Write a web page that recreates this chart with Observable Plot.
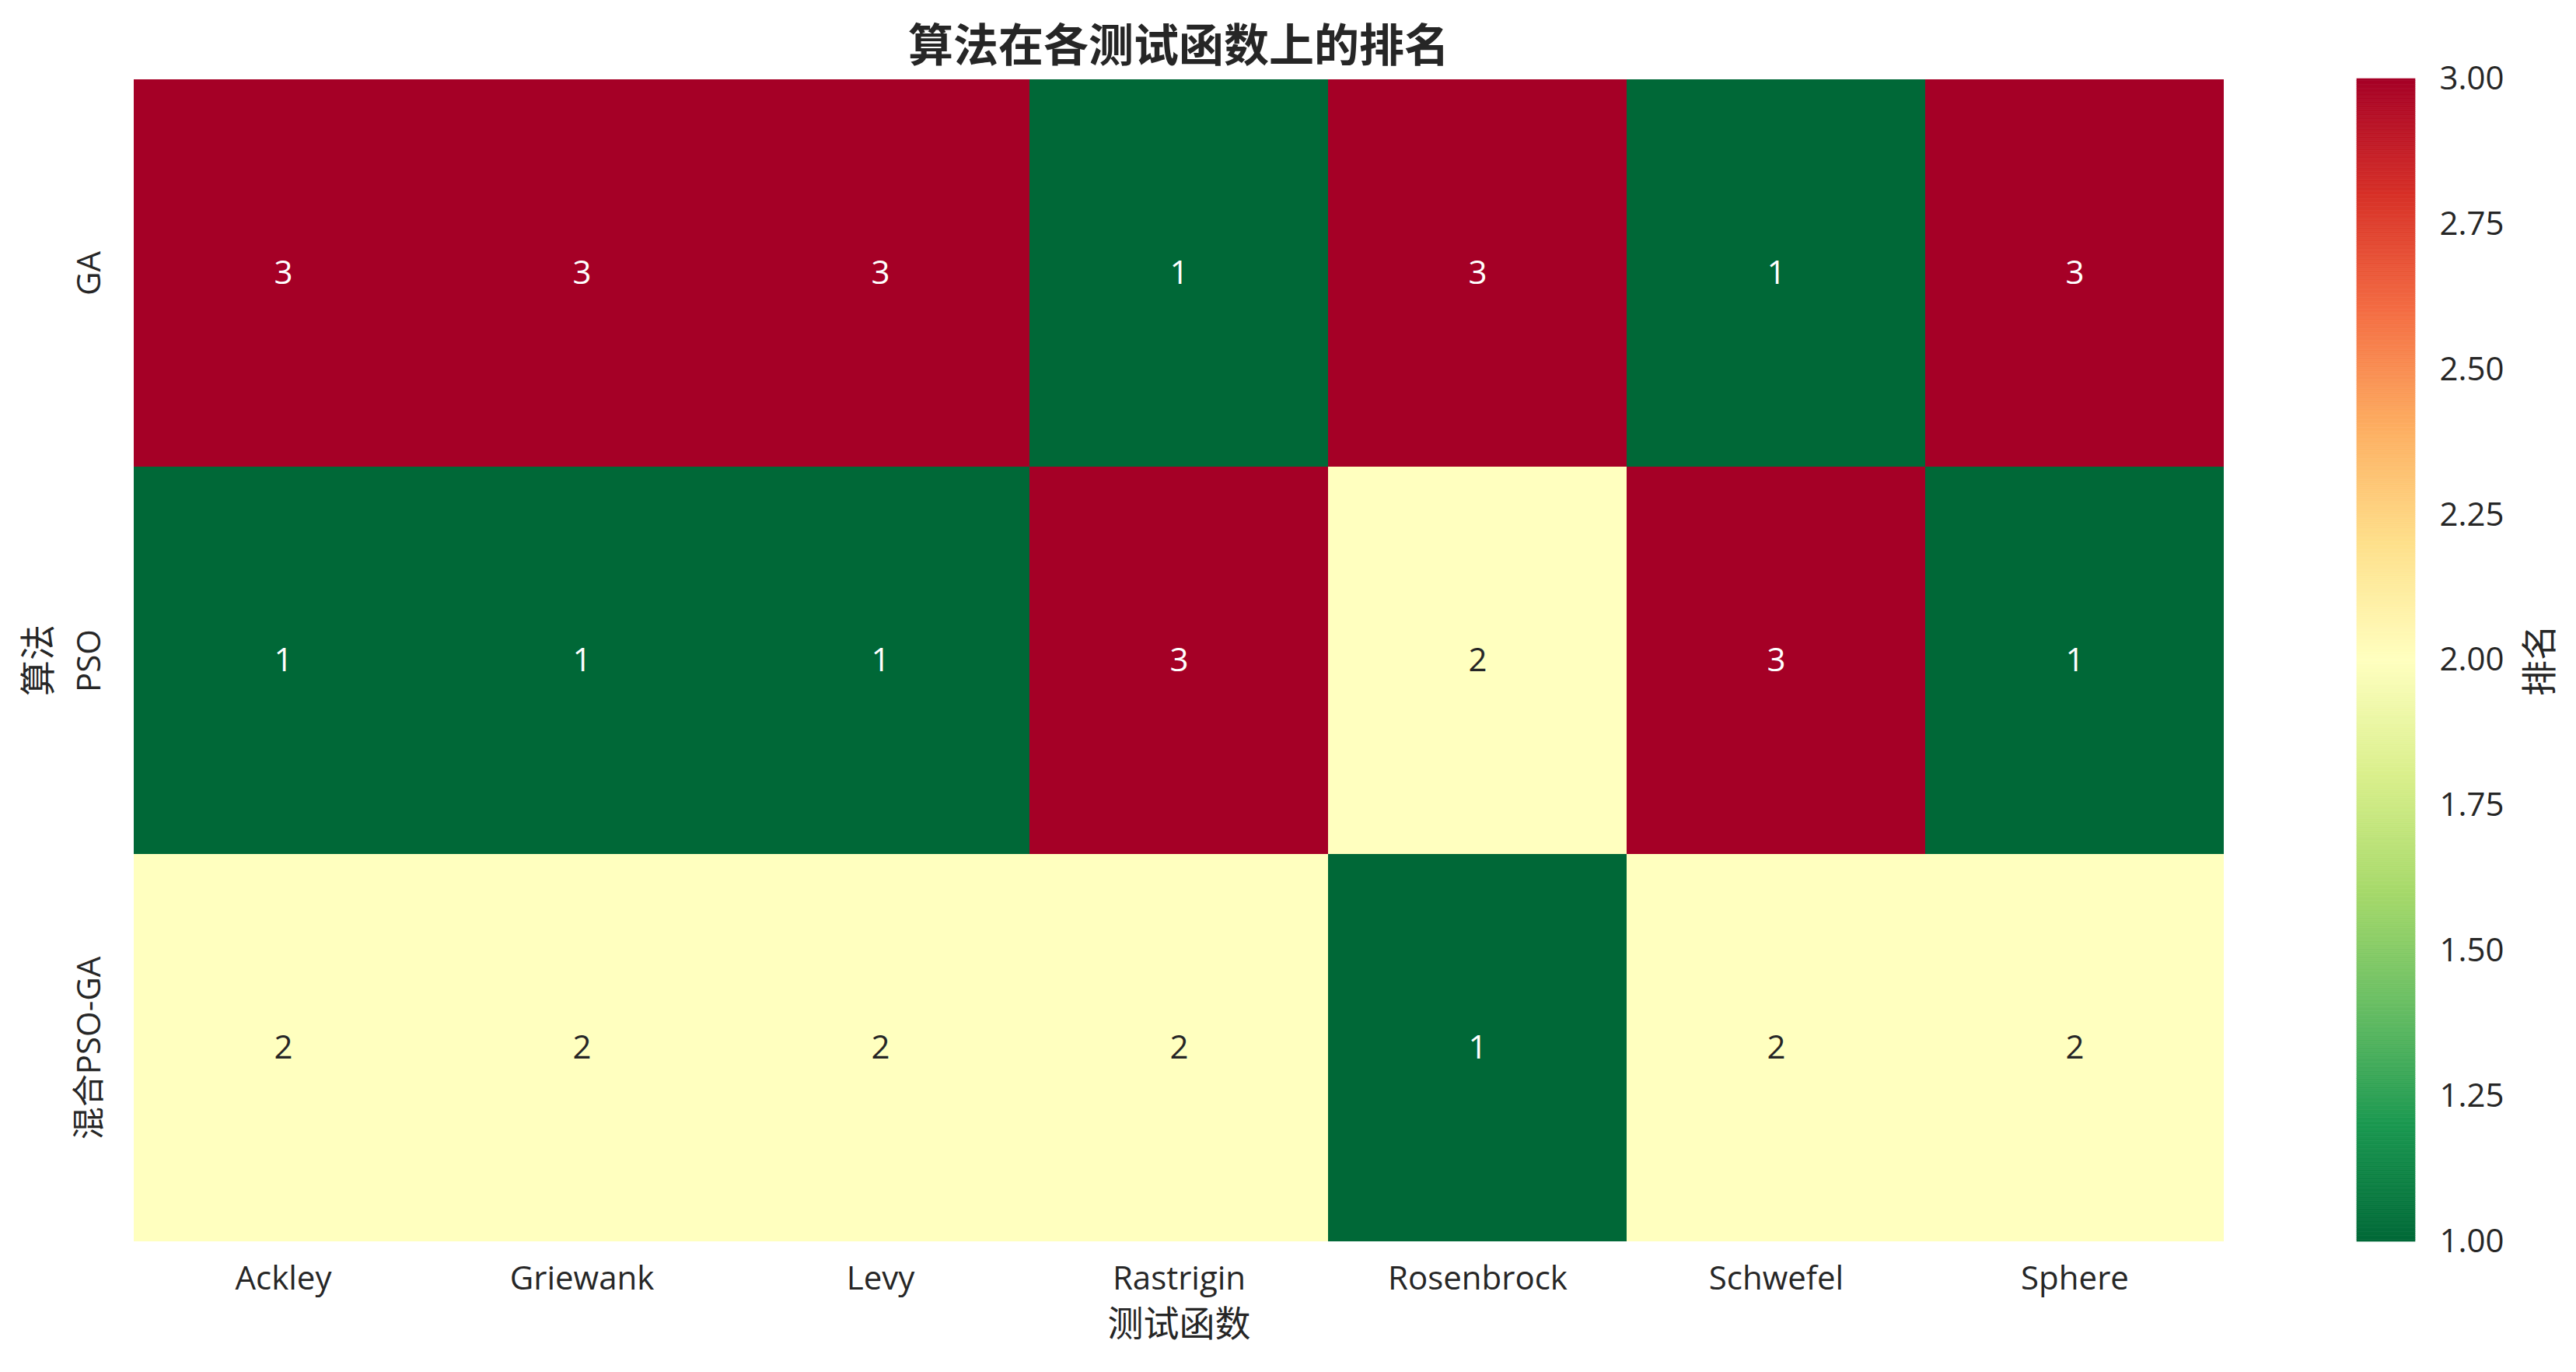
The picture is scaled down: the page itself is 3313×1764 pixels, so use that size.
<!DOCTYPE html>
<html><head><meta charset="utf-8">
<script src="https://cdn.jsdelivr.net/npm/d3@7"></script>
<script src="https://cdn.jsdelivr.net/npm/@observablehq/plot@0.6"></script>
<style>
body{margin:0;background:#fff;width:3313px;height:1764px;position:relative;overflow:hidden;font-family:'Open Sans','Noto Sans CJK SC',sans-serif;color:#262626}
#title{position:absolute;left:0;width:3032px;top:25px;text-align:center;font-weight:700;font-size:58px;font-family:'Noto Sans CJK SC',sans-serif;line-height:58px;color:#262626}
#main{position:absolute;left:0;top:0}
#cbar{position:absolute;left:2950px;top:0}
</style></head><body>
<div id="title">算法在各测试函数上的排名</div>
<div id="main"></div><div id="cbar"></div>
<script>
// ---- data ----
const functions = ["Ackley", "Griewank", "Levy", "Rastrigin", "Rosenbrock", "Schwefel", "Sphere"];
const algorithms = ["GA", "PSO", "混合PSO-GA"];
const ranksGA = [3, 3, 3, 1, 3, 1, 3];
const ranksPSO = [1, 1, 1, 3, 2, 3, 1];
const ranksHybrid = [2, 2, 2, 2, 1, 2, 2];
const colorbarTicks = [1.00, 1.25, 1.50, 1.75, 2.00, 2.25, 2.50, 2.75, 3.00];
const xTitle = "测试函数";
const yTitle = "算法";
const cbarTitle = "排名";

// ---- table ----
const ranks = [ranksGA, ranksPSO, ranksHybrid];
const table = algorithms.flatMap((a, i) => functions.map((f, j) => ({algorithm: a, fn: f, rank: ranks[i][j]})));

// RdYlGn_r (matplotlib, linear segments)
const rdylgn = ["#a50026","#d73027","#f46d43","#fdae61","#fee08b","#ffffbf","#d9ef8b","#a6d96a","#66bd63","#1a9850","#006837"];
const colorScale = {
  type: "linear",
  domain: d3.range(11).map(i => 1 + i * 0.2),
  range: rdylgn.slice().reverse(),
  interpolate: "rgb",
  clamp: true
};
const font = "'Open Sans','Noto Sans CJK SC',sans-serif";
const ink = "#262626";

const main = Plot.plot({
  width: 2900, height: 1764,
  marginLeft: 169, marginRight: 37, marginTop: 101, marginBottom: 168,
  style: {fontFamily: font, fontSize: "42px", color: ink, background: "transparent"},
  x: {domain: functions, padding: 0, label: null},
  y: {domain: algorithms, padding: 0, label: null, axis: null},
  color: colorScale,
  marks: [
    Plot.cell(table, {x: "fn", y: "algorithm", fill: "rank", inset: 0}),
    Plot.text(table, {x: "fn", y: "algorithm", text: d => String(d.rank), fontSize: 42,
      fill: d => d.rank === 2 ? ink : "#ffffff"}),
    Plot.axisX({tickSize: 0, tickPadding: 32, label: null, fontSize: 42}),
    Plot.text(algorithms, {y: d => d, frameAnchor: "left", textAnchor: "middle", dx: -54, rotate: -90, fontSize: 42, fill: ink, lineAnchor: "middle"}),
    Plot.text([yTitle], {frameAnchor: "left", textAnchor: "middle", dx: -119, rotate: -90, fontSize: 46, fill: ink, lineAnchor: "middle"}),
    Plot.text([xTitle], {frameAnchor: "bottom", dy: 107, fontSize: 46, fill: ink, lineAnchor: "middle"})
  ]
});
document.getElementById("main").appendChild(main);

const N = 600;
const slices = d3.range(N).map(i => ({y1: 1 + 2 * i / N, y2: 1 + 2 * (i + 1) / N, v: 1 + 2 * (i + 0.5) / N}));
const cbar = Plot.plot({
  width: 363, height: 1764,
  marginLeft: 81, marginRight: 207, marginTop: 101, marginBottom: 168,
  style: {fontFamily: font, fontSize: "42px", color: ink, background: "transparent"},
  y: {domain: [1, 3], label: null},
  color: colorScale,
  marks: [
    Plot.rect(slices, {y1: "y1", y2: "y2", fill: "v", stroke: "v", strokeWidth: 0.6}),
    Plot.axisY({anchor: "right", ticks: colorbarTicks, tickFormat: d3.format(".2f"), tickSize: 0, tickPadding: 31, label: null, fontSize: 42}),
    Plot.text([cbarTitle], {frameAnchor: "right", textAnchor: "middle", dx: 161, rotate: -90, fontSize: 46, fill: ink, lineAnchor: "middle"})
  ]
});
document.getElementById("cbar").appendChild(cbar);
</script>
</body></html>
